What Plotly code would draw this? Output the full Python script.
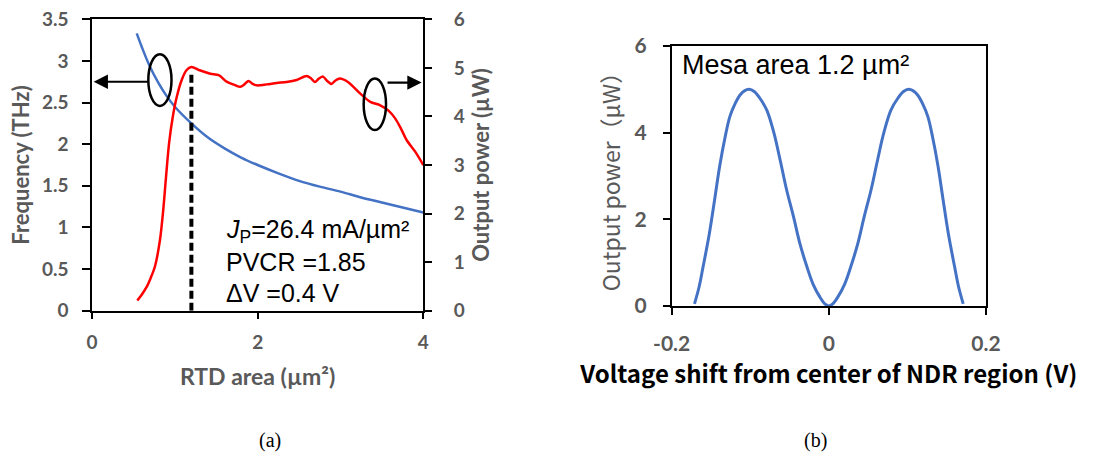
import plotly.graph_objects as go

# ---------------- Data: panel (a) ----------------
freq_area = [0.54, 0.6, 0.7, 0.8, 0.9, 1.0, 1.2, 1.4, 1.6, 1.8, 2.0, 2.25, 2.5, 2.75, 3.0, 3.25, 3.5, 3.75, 4.0]
freq_thz = [3.33, 3.17, 2.93, 2.74, 2.58, 2.45, 2.25, 2.08, 1.95, 1.84, 1.75, 1.65, 1.56, 1.49, 1.43, 1.36, 1.30, 1.24, 1.18]

power_area = [0.547, 0.60, 0.66, 0.71, 0.76, 0.82, 0.86, 0.894, 0.93, 0.975, 1.023, 1.083, 1.14, 1.20, 1.30, 1.43, 1.53,
              1.63, 1.72, 1.79, 1.84, 1.89, 1.94, 1.99, 2.11, 2.23, 2.35, 2.47, 2.59, 2.64, 2.69, 2.74,
              2.79, 2.84, 2.89, 2.94, 2.99, 3.09, 3.24, 3.36, 3.48, 3.58, 3.66, 3.73, 3.80, 3.90, 4.0]
power_uw = [0.21, 0.33, 0.49, 0.68, 0.91, 1.45, 2.07, 2.76, 3.44, 3.99, 4.40, 4.75, 4.95, 5.02, 4.95, 4.88, 4.85,
            4.71, 4.65, 4.61, 4.66, 4.73, 4.67, 4.64, 4.66, 4.69, 4.71, 4.75, 4.83, 4.79, 4.71, 4.78,
            4.82, 4.73, 4.67, 4.74, 4.78, 4.71, 4.47, 4.30, 4.23, 4.12, 3.96, 3.75, 3.51, 3.28, 3.0]

opt_area = [1.2, 1.2]
opt_power = [0.0, 4.9]

jp_text = "<i>J</i><sub>P</sub>=26.4 mA/µm²"
pvcr_text = "PVCR =1.85"
dv_text = "ΔV =0.4 V"

# ---------------- Data: panel (b) ----------------
shift_v = [-0.171, -0.165, -0.160, -0.152, -0.145, -0.139, -0.132, -0.126, -0.119, -0.113, -0.107, -0.1015,
           -0.095, -0.088, -0.079, -0.070, -0.062, -0.054, -0.045, -0.037, -0.028, -0.020, -0.0115, -0.005, 0.0,
           0.005, 0.0115, 0.020, 0.028, 0.037, 0.045, 0.054, 0.062, 0.070, 0.079, 0.088, 0.095,
           0.1015, 0.107, 0.113, 0.119, 0.126, 0.132, 0.139, 0.145, 0.152, 0.160, 0.165, 0.171]
power_b = [0.05, 0.45, 0.91, 1.68, 2.50, 3.22, 3.90, 4.37, 4.68, 4.87, 4.97, 5.00,
           4.95, 4.80, 4.52, 4.00, 3.37, 2.70, 2.06, 1.45, 0.91, 0.50, 0.21, 0.05, 0.0,
           0.05, 0.21, 0.50, 0.91, 1.45, 2.06, 2.70, 3.37, 4.00, 4.52, 4.80, 4.95,
           5.00, 4.97, 4.87, 4.68, 4.37, 3.90, 3.22, 2.50, 1.68, 0.91, 0.45, 0.05]
shift_ticks = [-0.2, 0.0, 0.2]
shift_ticktext = ["-0.2", "0", "0.2"]

mesa_text = "Mesa area 1.2 µm²"

W, H = 1110, 459
GRAY = "#595959"
BLUE = "#4472C4"
RED = "#FF0000"
TICKFONT = dict(family="Lato", size=19, color=GRAY, weight="bold")
TICKFONT_B = dict(family="Lato", size=21, color=GRAY, weight="bold")

fig = go.Figure()

fig.add_trace(go.Scatter(x=freq_area, y=freq_thz, mode="lines", line=dict(color=BLUE, width=2.5, shape="spline"),
                         xaxis="x", yaxis="y", showlegend=False))
fig.add_trace(go.Scatter(x=power_area, y=power_uw, mode="lines", line=dict(color=RED, width=2.5, shape="spline", smoothing=0.8),
                         xaxis="x", yaxis="y2", showlegend=False))
fig.add_trace(go.Scatter(x=opt_area, y=opt_power, mode="lines", line=dict(color="black", width=4, dash="8px,4px"),
                         xaxis="x", yaxis="y2", showlegend=False))
fig.add_trace(go.Scatter(x=shift_v, y=power_b, mode="lines", line=dict(color=BLUE, width=3, shape="spline"),
                         xaxis="x2", yaxis="y3", showlegend=False))

ax_common = dict(showgrid=False, zeroline=False, showline=True, linecolor="black", linewidth=1.5,
                 ticks="outside", tickcolor="black", tickwidth=1.5, automargin=False)

fig.update_layout(
    width=W, height=H, margin=dict(l=0, r=0, t=0, b=0),
    paper_bgcolor="white", plot_bgcolor="white",
    xaxis=dict(domain=[92/W, 423.3/W], range=[0, 4], dtick=2, tickfont=TICKFONT, ticklen=7, ticklabelstandoff=7,
               mirror=True, anchor="y",
               title=dict(text="RTD area (µm²)", font=dict(family="Lato", size=23, color=GRAY, weight="bold"), standoff=17),
               **ax_common),
    yaxis=dict(domain=[(H-310.7)/H, (H-19.3)/H], range=[0, 3.5], dtick=0.5, tickfont=TICKFONT, ticklen=8,
               ticklabelstandoff=10, anchor="x",
               title=dict(text="Frequency (THz)", font=dict(family="Lato", size=22, color=GRAY, weight="bold"), standoff=6),
               **ax_common),
    yaxis2=dict(overlaying="y", side="right", range=[0, 6], dtick=1, tickfont=TICKFONT, ticklen=7, anchor="x",
                ticklabelstandoff=18,
                title=dict(text="Output power (µW)", font=dict(family="Lato", size=22, color=GRAY, weight="bold"), standoff=10),
                **ax_common),
    xaxis2=dict(domain=[671.7/W, 986/W], range=[-0.2, 0.2], tickvals=shift_ticks, ticktext=shift_ticktext,
                tickfont=TICKFONT_B, ticklen=7, ticklabelstandoff=11,
                mirror=True, anchor="y3",
                title=dict(text="Voltage shift from center of NDR region (V)",
                           font=dict(family="Noto Sans CJK JP", size=24, color="black", weight="bold"), standoff=3),
                **ax_common),
    yaxis3=dict(domain=[(H-306)/H, (H-46)/H], range=[0, 6], dtick=2,
                tickfont=TICKFONT_B, ticklen=7, ticklabelstandoff=12,
                mirror=True, anchor="x2",
                title=dict(text="Output power（μW）", font=dict(family="Noto Sans CJK JP", size=23, color=GRAY), standoff=8),
                **ax_common),
)

# Ellipses and arrows (panel a, in data coordinates of left axis)
fig.add_shape(type="circle", xref="x", yref="y", x0=0.68, x1=0.96, y0=2.46, y1=3.08,
              line=dict(color="black", width=2.5))
fig.add_shape(type="circle", xref="x", yref="y", x0=3.28, x1=3.55, y0=2.17, y1=2.79,
              line=dict(color="black", width=2.5))
fig.add_annotation(xref="x", yref="y", axref="x", ayref="y", x=0.02, y=2.75, ax=0.69, ay=2.75,
                   showarrow=True, arrowhead=2, arrowsize=1.3, arrowwidth=2.2, arrowcolor="black", text="")
fig.add_annotation(xref="x", yref="y", axref="x", ayref="y", x=3.98, y=2.74, ax=3.55, ay=2.74,
                   showarrow=True, arrowhead=2, arrowsize=1.3, arrowwidth=2.2, arrowcolor="black", text="")

TXT = dict(family="Liberation Sans, Arial", size=25, color="black")
for i, t in enumerate([jp_text, pvcr_text, dv_text]):
    fig.add_annotation(xref="paper", yref="paper", x=224/W, y=(H-(231 + 31*i))/H, xanchor="left", yanchor="middle",
                       text=t, showarrow=False, font=TXT)

fig.add_annotation(xref="paper", yref="paper", x=680/W, y=(H-65)/H, xanchor="left", yanchor="middle",
                   text=mesa_text, showarrow=False, font=dict(family="Liberation Sans, Arial", size=27, color="black"))

CAP = dict(family="Liberation Serif, Times New Roman", size=20, color="black")
fig.add_annotation(xref="paper", yref="paper", x=257/W, y=(H-440)/H, yanchor="middle", text="(a)", showarrow=False, font=CAP)
fig.add_annotation(xref="paper", yref="paper", x=829/W, y=(H-440)/H, yanchor="middle", text="(b)", showarrow=False, font=CAP)

fig.write_html("out.html")
